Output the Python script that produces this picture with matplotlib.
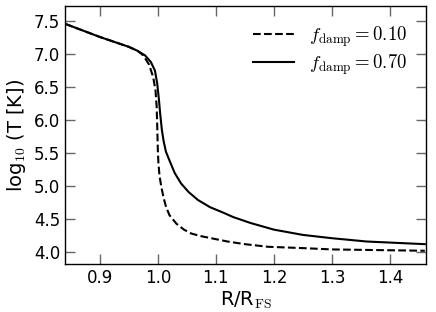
import matplotlib
matplotlib.use('Agg')
import matplotlib.pyplot as plt

# Radius in units of R_FS, log10 temperature for two damping factors
r_damp01 = [0.84, 0.87, 0.90, 0.93, 0.95, 0.965, 0.975, 0.985, 0.992, 0.996,
            0.998, 0.999, 1.000, 1.001, 1.003, 1.006, 1.010, 1.014, 1.020,
            1.032, 1.045, 1.058, 1.075, 1.092, 1.12, 1.15, 1.19, 1.25, 1.30,
            1.38, 1.46]
logT_damp01 = [7.46, 7.36, 7.26, 7.17, 7.11, 7.05, 6.98, 6.84, 6.65, 6.45,
               6.20, 5.90, 5.55, 5.35, 5.15, 4.99, 4.82, 4.69, 4.56,
               4.43, 4.34, 4.28, 4.24, 4.21, 4.16, 4.12, 4.08, 4.06, 4.04,
               4.03, 4.02]

r_damp07 = [0.84, 0.87, 0.90, 0.93, 0.95, 0.965, 0.978, 0.988, 0.995, 0.999,
            1.002, 1.004, 1.007, 1.010, 1.014, 1.020, 1.029, 1.040, 1.053,
            1.069, 1.09, 1.112, 1.13, 1.16, 1.20, 1.25, 1.30, 1.36, 1.46]
logT_damp07 = [7.46, 7.36, 7.26, 7.17, 7.11, 7.05, 6.98, 6.88, 6.75, 6.55,
               6.30, 6.10, 5.85, 5.68, 5.52, 5.39, 5.20, 5.04, 4.91,
               4.79, 4.68, 4.60, 4.53, 4.44, 4.34, 4.26, 4.21, 4.16, 4.12]

labels = [r'$f_{\rm damp}=0.10$', r'$f_{\rm damp}=0.70$']

plt.rcParams['mathtext.fontset'] = 'cm'
plt.rcParams['mathtext.rm'] = 'serif'

fig = plt.figure(figsize=(4.36, 3.12), dpi=100)
ax = fig.add_axes([0.149, 0.154, 0.828, 0.827])

ax.plot(r_damp01, logT_damp01, 'k--', lw=1.5, label=labels[0])
ax.plot(r_damp07, logT_damp07, 'k-', lw=1.5, label=labels[1])

ax.set_xlim(0.84, 1.462)
ax.set_ylim(3.82, 7.73)
ax.set_xticks([0.9, 1.0, 1.1, 1.2, 1.3, 1.4])
ax.set_yticks([4.0, 4.5, 5.0, 5.5, 6.0, 6.5, 7.0, 7.5])
ax.tick_params(direction='in', top=True, right=True, length=7, width=1,
               color='0.4', labelsize=12)
for s in ax.spines.values():
    s.set_linewidth(1)

ax.set_xlabel(r'R/R$_{\rm FS}$', fontsize=14, labelpad=2)
ax.set_ylabel(r'log$_{10}$ (T [K])', fontsize=14, labelpad=4)

ax.legend(loc='upper right', frameon=False, fontsize=13.5, handlelength=2.2,
          labelspacing=0.2, borderaxespad=0.6)

fig.savefig('out.png', dpi=100)
